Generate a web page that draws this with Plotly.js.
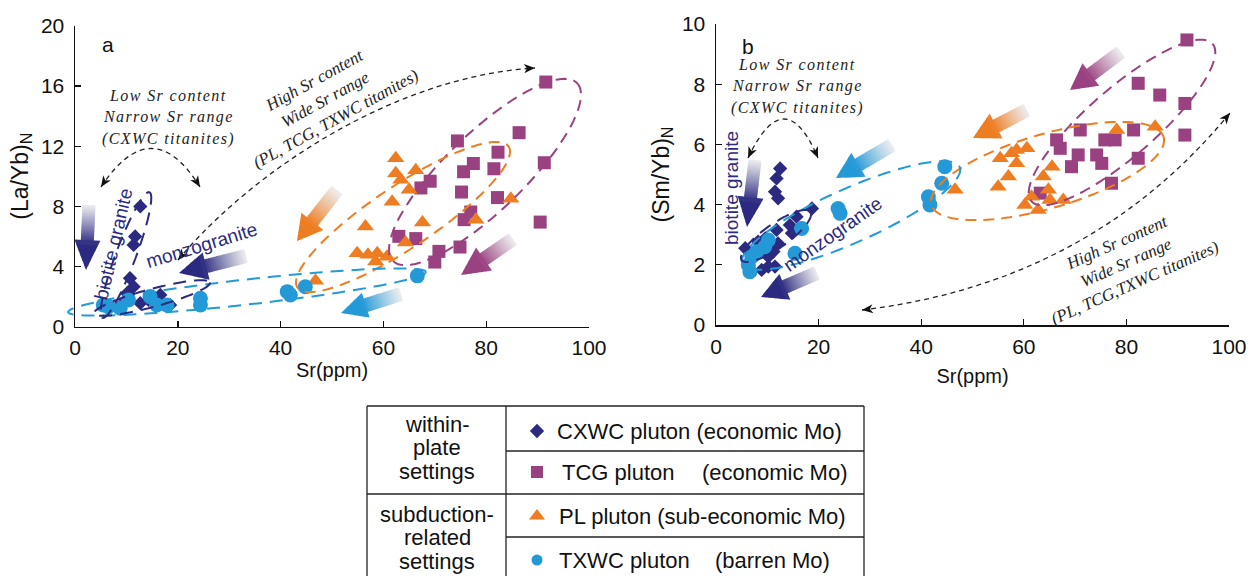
<!DOCTYPE html>
<html>
<head>
<meta charset="utf-8">
<script src="https://cdn.plot.ly/plotly-3.0.1.min.js"></script>
<style>html,body{margin:0;padding:0;background:#fff}#chart{width:1255px;height:576px}</style>
</head>
<body>
<div id="chart"></div>
<script>
// ---- Panel a: Sr (ppm) vs (La/Yb)N of titanite ----
const cxwcSrA   = [12.7, 11.7, 11.4, 10.7, 11.4, 10.1, 12.7, 14.3, 16.6, 18.5, 9.4];
const cxwcLaYbA = [7.99, 5.99, 5.43, 3.21, 2.65, 2.21, 1.55, 1.77, 2.10, 1.43, 1.55];
const tcgSrA    = [91.6, 74.4, 86.4, 91.3, 82.3, 77.5, 75.6, 81.5, 69.1, 67.3, 75.2, 82.2, 77.0, 75.7, 90.5, 63.0, 66.3, 74.9, 70.8, 70.0];
const tcgLaYbA  = [16.27, 12.35, 12.9, 10.9, 11.6, 10.85, 10.3, 10.5, 9.67, 9.22, 8.95, 8.58, 7.62, 7.11, 6.95, 6.0, 5.85, 5.29, 5.0, 4.29];
const plSrA     = [62.4, 62.4, 66.3, 63.4, 65.0, 61.7, 84.8, 56.5, 67.6, 78.0, 64.3, 54.9, 57.0, 58.8, 60.7, 58.5, 46.8];
const plLaYbA   = [11.2, 10.2, 10.4, 9.77, 9.1, 8.3, 8.5, 6.65, 6.92, 7.1, 5.59, 4.88, 4.77, 4.88, 4.65, 4.32, 3.05];
const txwcSrA   = [66.6, 44.8, 41.3, 41.9, 24.4, 24.4, 6.5, 8.8, 14.6, 15.9, 10.4, 17.9, 5.5];
const txwcLaYbA = [3.37, 2.65, 2.32, 2.10, 1.88, 1.43, 1.32, 1.21, 1.99, 1.43, 1.77, 1.43, 1.43];

// ---- Panel b: Sr (ppm) vs (Sm/Yb)N of titanite ----
const cxwcSrB   = [12.5, 11.8, 11.5, 12.1, 18.7, 15.7, 14.4, 11.8, 14.8, 9.6, 8.2, 5.7, 12.1, 11.2, 10.2, 10.2, 8.9, 11.5];
const cxwcSmYbB = [5.20, 4.87, 4.43, 4.21, 3.87, 3.60, 3.32, 3.16, 3.05, 2.88, 2.77, 2.55, 2.71, 2.44, 2.27, 1.94, 1.83, 1.94];
const tcgSrB    = [91.8, 82.3, 86.5, 91.4, 91.4, 81.4, 71.0, 75.8, 77.8, 66.4, 67.1, 70.6, 74.2, 75.2, 82.3, 69.3, 77.1, 63.2];
const tcgSmYbB  = [9.47, 8.03, 7.64, 7.36, 6.31, 6.48, 6.48, 6.15, 6.15, 6.15, 5.87, 5.65, 5.65, 5.37, 5.54, 5.26, 4.71, 4.38];
const plSrB     = [78.1, 85.6, 55.4, 57.6, 58.6, 60.6, 58.6, 65.5, 57.0, 63.8, 55.0, 46.6, 61.5, 64.8, 65.1, 67.7, 60.2, 62.8];
const plSmYbB   = [6.48, 6.59, 5.54, 5.71, 5.81, 5.87, 5.37, 5.26, 4.93, 4.93, 4.59, 4.49, 4.26, 4.49, 4.15, 4.15, 3.99, 3.82];
const txwcSrB   = [23.8, 24.2, 16.7, 10.2, 9.5, 7.9, 15.4, 6.3, 6.6, 7.0, 44.6, 44.0, 41.4, 41.7];
const txwcSmYbB = [3.87, 3.71, 3.21, 2.82, 2.60, 2.43, 2.38, 1.99, 1.77, 2.27, 5.26, 4.71, 4.26, 3.99];

// ---- Legend table text ----
const settingLines = [['within-', 'plate', 'settings'], ['subduction-', 'related', 'settings']];
const plutonNames  = ['CXWC pluton', 'TCG pluton', 'PL pluton', 'TXWC pluton'];
const plutonNotes  = ['(economic Mo)', '(economic Mo)', '(sub-economic Mo)', '(barren Mo)'];

const W = 1255, H = 576;
const NAVY = '#2b2a80', PURPLE = '#9a4181', ORANGE = '#ee7d22', BLUE = '#2499d8';
const SANS = 'Liberation Sans, Arial, sans-serif';
const SERIF = 'Liberation Serif, Times New Roman, serif';

const styles = {
  cxwc: {symbol: 'diamond', size: 11, color: NAVY},
  tcg:  {symbol: 'square', size: 13, color: PURPLE},
  pl:   {symbol: 'triangle-up', size: 15, color: ORANGE},
  txwc: {symbol: 'circle', size: 15, color: BLUE}
};

function pts(x, y, st, xa, ya, name) {
  return {type: 'scatter', mode: 'markers', x, y, xaxis: xa, yaxis: ya, name,
    marker: {symbol: st.symbol, size: st.size, color: st.color, line: {width: 0}},
    cliponaxis: false, hoverinfo: 'x+y+name'};
}

const traces = [
  pts(cxwcSrA, cxwcLaYbA, styles.cxwc, 'x', 'y', 'CXWC'),
  pts(tcgSrA, tcgLaYbA, styles.tcg, 'x', 'y', 'TCG'),
  pts(plSrA, plLaYbA, styles.pl, 'x', 'y', 'PL'),
  pts(txwcSrA, txwcLaYbA, styles.txwc, 'x', 'y', 'TXWC'),
  pts(cxwcSrB, cxwcSmYbB, styles.cxwc, 'x2', 'y2', 'CXWC'),
  pts(tcgSrB, tcgSmYbB, styles.tcg, 'x2', 'y2', 'TCG'),
  pts(plSrB, plSmYbB, styles.pl, 'x2', 'y2', 'PL'),
  pts(txwcSrB, txwcSmYbB, styles.txwc, 'x2', 'y2', 'TXWC')
];

// legend-table symbols, placed on the pixel overlay axes
const rowY = [431, 472, 516, 560];
const legendSym = [
  {symbol: 'diamond', size: 11, color: NAVY},
  {symbol: 'square', size: 12, color: PURPLE},
  {symbol: 'triangle-up', size: 14, color: ORANGE},
  {symbol: 'circle', size: 11, color: BLUE}
];
legendSym.forEach((m, i) => traces.push({type: 'scatter', mode: 'markers', x: [537], y: [rowY[i]], xaxis: 'x3', yaxis: 'y3',
  marker: {symbol: m.symbol, size: m.size, color: m.color, line: {width: 0}}, hoverinfo: 'skip'}));

// ---------- decoration helpers (pixel space on overlay axes) ----------
const shapes = [];
function ellipse(cx, cy, a, b, deg, color, dash) {
  const th = deg * Math.PI / 180, c = Math.cos(th), s = Math.sin(th);
  let d = '';
  for (let i = 0; i <= 120; i++) {
    const t = i / 120 * 2 * Math.PI;
    const ex = a * Math.cos(t), ey = b * Math.sin(t);
    const x = cx + ex * c + ey * s, y = cy - ex * s + ey * c;
    d += (i ? 'L' : 'M') + x.toFixed(1) + ',' + y.toFixed(1);
  }
  shapes.push({type: 'path', xref: 'x3', yref: 'y3', path: d, layer: 'above',
    line: {color, width: 2, dash: dash || '11px,7px'}});
}
function hexRgb(h) { return [1, 3, 5].map(i => parseInt(h.substr(i, 2), 16)); }
function gradArrow(tx, ty, hx, hy, color, shaftW, headW, headL) {
  const dx = hx - tx, dy = hy - ty, L = Math.hypot(dx, dy);
  const ux = dx / L, uy = dy / L, nx = -uy, ny = ux;
  const sL = L - headL, light = [238, 238, 240], dark = hexRgb(color);
  const bounds = [], nS = 16, nH = 6;
  for (let i = 0; i <= nS; i++) bounds.push(sL * i / nS);
  for (let i = 1; i <= nH; i++) bounds.push(sL + headL * i / nH);
  for (let k = 0; k < bounds.length - 1; k++) {
    const s0 = bounds[k], inHead = s0 >= sL - 1e-6;
    const s1 = Math.min(bounds[k + 1] + 0.8, L);
    const hw = s => inHead ? headW / 2 * Math.max(0, L - s) / headL : shaftW / 2;
    const w0 = hw(s0), w1 = hw(s1);
    const p = s => [tx + ux * s, ty + uy * s];
    const [ax, ay] = p(s0), [bx, by] = p(s1);
    const f = Math.min(1, ((s0 + s1) / 2) / (sL + headL * 0.15));
    const g = Math.pow(f, 1.1);
    const col = 'rgb(' + light.map((v, i) => Math.round(v + (dark[i] - v) * g)).join(',') + ')';
    const path = 'M' + (ax + nx * w0) + ',' + (ay + ny * w0) + 'L' + (bx + nx * w1) + ',' + (by + ny * w1) +
      'L' + (bx - nx * w1) + ',' + (by - ny * w1) + 'L' + (ax - nx * w0) + ',' + (ay - ny * w0) + 'Z';
    shapes.push({type: 'path', xref: 'x3', yref: 'y3', path, fillcolor: col, line: {width: 0}, layer: 'above'});
  }
}
function dashCurve(d) {
  shapes.push({type: 'path', xref: 'x3', yref: 'y3', path: d, layer: 'above',
    line: {color: '#222', width: 1.3, dash: '5px,4px'}});
}
function tipHead(x, y, dx, dy) {
  const L = Math.hypot(dx, dy), ux = dx / L, uy = dy / L, nx = -uy, ny = ux, len = 11, w = 4.6;
  const bx = x - ux * len, by = y - uy * len, mx = x - ux * len * 0.72, my = y - uy * len * 0.72;
  shapes.push({type: 'path', xref: 'x3', yref: 'y3', layer: 'above', fillcolor: '#111', line: {width: 0},
    path: 'M' + x + ',' + y + 'L' + (bx + nx * w) + ',' + (by + ny * w) + 'L' + mx + ',' + my +
      'L' + (bx - nx * w) + ',' + (by - ny * w) + 'Z'});
}

// ---------- panel a decorations ----------
ellipse(485, 172, 128, 39, 44, PURPLE);
ellipse(403, 217, 127, 31, 33.7, ORANGE);
ellipse(247, 292, 180, 12.5, 6.4, BLUE, '13px,8px');
ellipse(126, 255, 67, 10, 69.5, NAVY, '13px,8px');
ellipse(152, 298, 60, 9, 15, NAVY, '13px,8px');

gradArrow(89, 205, 86, 270, NAVY, 13, 26, 30);
gradArrow(246, 256, 179, 273, NAVY, 14, 28, 28);
gradArrow(337, 190, 297, 241, ORANGE, 14, 28, 25);
gradArrow(513, 239, 461, 275, PURPLE, 14, 28, 28);
gradArrow(401, 294, 341, 313, BLUE, 14, 26, 26);

dashCurve('M101,187 Q152,110 200,187');
tipHead(101, 187, -51, 77); tipHead(200, 187, 48, 77);
dashCurve('M178,260 C255,168 398,76 535,68');
tipHead(178, 260, -77, 92); tipHead(535, 68, 137, -8);

// ---------- panel b decorations ----------
ellipse(1122, 122.5, 120, 34, 41, PURPLE);
ellipse(1047.5, 171, 121, 37, 16.3, ORANGE);
ellipse(851, 215.5, 119, 27, 24, BLUE, '13px,8px');
ellipse(776, 236, 42, 12, 35, NAVY, '13px,8px');

gradArrow(755, 160, 747, 227, NAVY, 13, 26, 30);
gradArrow(892, 145, 836, 178, BLUE, 14, 28, 26);
gradArrow(817, 273, 761, 297, NAVY, 14, 28, 26);
gradArrow(1121, 52, 1070, 90, PURPLE, 14, 28, 26);
gradArrow(1027, 110, 973, 138, ORANGE, 14, 28, 26);

dashCurve('M748,158 Q785,80 818,158');
tipHead(748, 158, -37, 78); tipHead(818, 158, 33, 78);
dashCurve('M862,310 Q1090,283 1230,113');
tipHead(862, 310, -228, 27); tipHead(1230, 113, 140, -170);

// ---------- legend table ----------
function seg(x0, y0, x1, y1) {
  shapes.push({type: 'line', xref: 'x3', yref: 'y3', x0, y0, x1, y1, layer: 'above', line: {color: '#222', width: 1.3}});
}
seg(367, 406, 864, 406); seg(367, 406, 367, 577); seg(864, 406, 864, 577); seg(506, 406, 506, 577);
seg(506, 451, 864, 451); seg(367, 494, 864, 494); seg(506, 537, 864, 537);

// ---------- text ----------
const ann = [];
function txt(x, y, text, font, o) {
  ann.push(Object.assign({xref: 'x3', yref: 'y3', x, y, text, showarrow: false, font,
    xanchor: 'center', yanchor: 'middle'}, o || {}));
}
const sans = (size, color) => ({family: SANS, size, color: color || '#111'});
const serif = size => ({family: SERIF, size, color: '#222'});
const spaced = s => '<i><span style="letter-spacing:1.4px">' + s + '</span></i>';
const ital = s => '<i>' + s + '</i>';

txt(108, 44, 'a', sans(21));
txt(748, 46, 'b', sans(21));
['Low Sr content', 'Narrow Sr range', '(CXWC titanites)'].forEach((s, i) => {
  txt(168, 95 + i * 22, spaced(s), serif(16));
  txt(797, 64 + i * 22, spaced(s), serif(16));
});
txt(325, 99, ital('High Sr content<br>Wide Sr range<br>(PL, TCG, TXWC titanites)'), serif(17), {textangle: -29});
txt(1126, 262, ital('High Sr content<br>Wide Sr range<br>(PL, TCG,TXWC titanites)'), serif(17), {textangle: -24});
txt(113, 244, 'biotite granite', sans(19, NAVY), {textangle: -77});
txt(201, 245, 'monzogranite', sans(19, NAVY), {textangle: -17});
txt(731, 188, 'biotite granite', sans(19, NAVY), {textangle: -90});
txt(832, 234, 'monzogranite', sans(19, NAVY), {textangle: -35});

settingLines[0].forEach((s, i) => txt(437, 424 + i * 23.5, s, sans(22)));
settingLines[1].forEach((s, i) => txt(437, 514 + i * 23.5, s, sans(22)));
const nameX = [555, 560, 557, 557], noteX = [0, 700, 0, 713];
txt(nameX[0], rowY[0], plutonNames[0] + ' ' + plutonNotes[0], sans(22), {xanchor: 'left'});
txt(nameX[1], rowY[1], plutonNames[1], sans(22), {xanchor: 'left'});
txt(noteX[1], rowY[1], plutonNotes[1], sans(22), {xanchor: 'left'});
txt(nameX[2], rowY[2], plutonNames[2] + ' ' + plutonNotes[2], sans(22), {xanchor: 'left'});
txt(nameX[3], rowY[3], plutonNames[3], sans(22), {xanchor: 'left'});
txt(noteX[3], rowY[3], plutonNotes[3], sans(22), {xanchor: 'left'});

// ---------- axes ----------
function axis(o) {
  return Object.assign({ticks: 'inside', ticklen: 6, tickwidth: 1.4, tickcolor: '#111', showline: true,
    linecolor: '#111', linewidth: 1.5, showgrid: false, zeroline: false, fixedrange: true,
    tickfont: sans(21)}, o);
}
const layout = {
  width: W, height: H, margin: {l: 0, r: 0, t: 0, b: 0}, paper_bgcolor: '#fff', plot_bgcolor: 'rgba(0,0,0,0)',
  showlegend: false, font: sans(18),
  xaxis: axis({domain: [75 / W, 589 / W], range: [0, 100], tick0: 0, dtick: 20, anchor: 'y', ticklabelstandoff: 2,
    title: {text: 'Sr(ppm)', font: sans(20), standoff: 5}}),
  yaxis: axis({domain: [1 - 326.5 / H, 1 - 26 / H], range: [0, 20], tick0: 0, dtick: 4, anchor: 'x', ticklabelstandoff: 5,
    title: {text: '(La/Yb)<sub>N</sub>', font: sans(23), standoff: 6}}),
  xaxis2: axis({domain: [716 / W, 1229 / W], range: [0, 100], tick0: 0, dtick: 20, anchor: 'y2', ticklabelstandoff: 2,
    title: {text: 'Sr(ppm)', font: sans(20), standoff: 12}}),
  yaxis2: axis({domain: [1 - 325 / H, 1 - 24 / H], range: [0, 10], tick0: 0, dtick: 2, anchor: 'x2', ticklabelstandoff: 5,
    title: {text: '(Sm/Yb)<sub>N</sub>', font: sans(23), standoff: 6}}),
  xaxis3: {domain: [0, 1], range: [0, W], visible: false, fixedrange: true, anchor: 'y3'},
  yaxis3: {domain: [0, 1], range: [H, 0], visible: false, fixedrange: true, anchor: 'x3'},
  shapes, annotations: ann
};
Plotly.newPlot('chart', traces, layout, {displayModeBar: false, staticPlot: true});
</script>
</body>
</html>
